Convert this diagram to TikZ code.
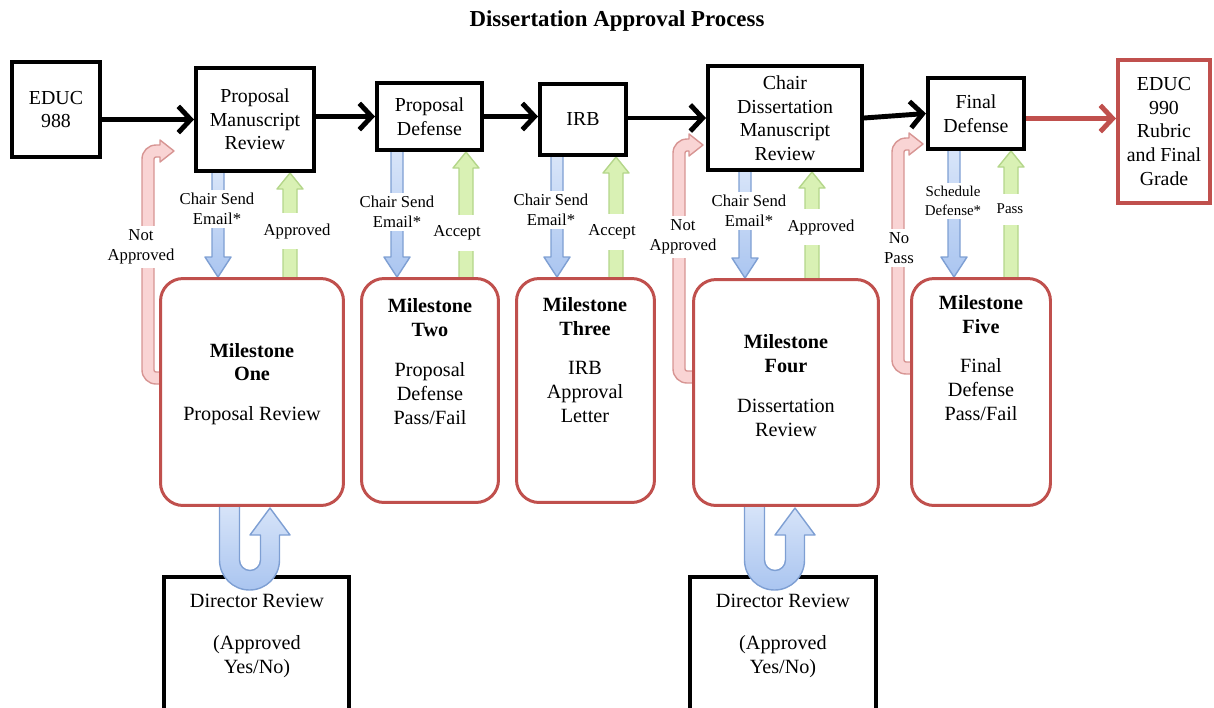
\documentclass[tikz,border=0pt]{standalone}
\usepackage{fontspec}
\setmainfont{Liberation Serif}
\usepackage{tikz}
\usetikzlibrary{arrows.meta,calc,backgrounds}

\definecolor{msred}{HTML}{C0504D}
\definecolor{blueA}{HTML}{DAE6F9}
\definecolor{blueB}{HTML}{AAC5F0}
\definecolor{bluelinec}{HTML}{7E9FD3}
\definecolor{greenfill}{HTML}{D9F1B4}
\definecolor{greenline}{HTML}{B4D68A}
\definecolor{pinkfill}{HTML}{F9D4D4}
\definecolor{pinkline}{HTML}{D79593}

\newcommand{\boxfont}{\fontsize{11.3}{13.4}\selectfont}
\newcommand{\lblfont}{\fontsize{9.5}{11.4}\selectfont}
\newcommand{\smallfont}{\fontsize{8.5}{10.6}\selectfont}

\tikzset{
  topbox/.style={draw, line width=2.3pt, fill=white, align=center, font=\boxfont, inner sep=1pt},
  endbox/.style={topbox, draw=msred},
  milebox/.style={draw=msred, line width=1.7pt, rounded corners=0.45cm, fill=white},
  miletext/.style={align=center, font=\fontsize{11.5}{13.6}\selectfont},
  dirbox/.style={draw, line width=2.3pt, fill=white},
  flow/.style={line width=2.8pt, -{Straight Barb[length=7pt,width=15pt]}},
  lbl/.style={fill=white, align=center, inner sep=2pt, font=\lblfont},
  bluearrow/.style={draw=bluelinec, line width=0.8pt, top color=blueA, bottom color=blueB, line join=round},
  greenarrow/.style={draw=greenline, line width=0.8pt, fill=greenfill, line join=round},
  pinkarrow/.style={draw=pinkline, line width=0.8pt, fill=pinkfill, line join=round},
}

% block arrow down: x, upper node, lower node
\newcommand{\downblock}[3]{%
  \path (#1,0 |- #2.south) coordinate (tl) (#1,0 |- #3.north) coordinate (hd);
  \draw[bluearrow] ($(tl)+(-6,-6)$) -- ($(hd)+(-6,-20)$) -- ($(hd)+(-13,-20)$) -- (hd)
    -- ($(hd)+(13,-20)$) -- ($(hd)+(6,-20)$) -- ($(tl)+(6,-6)$) -- cycle;}
% block arrow up: x, lower node, upper node
\newcommand{\upblock}[3]{%
  \path (#1,0 |- #2.north) coordinate (tl) (#1,0 |- #3.south) coordinate (hd);
  \draw[greenarrow] ($(tl)+(-7,6)$) -- ($(hd)+(-7,16)$) -- ($(hd)+(-13,16)$) -- (hd)
    -- ($(hd)+(13,16)$) -- ($(hd)+(7,16)$) -- ($(tl)+(7,6)$) -- cycle;}
% bent return arrow: shaft x, bottom y, top y, tip x
\newcommand{\bentblock}[4]{%
  \draw[pinkarrow] (#1+16,#2+6) -- (#1+8,#2+6) arc[start angle=90,end angle=180,radius=14]
    -- (#1-6,#3+8) arc[start angle=180,end angle=270,radius=14]
    -- (#4-14,#3-6) -- (#4-14,#3-11) -- (#4,#3) -- (#4-14,#3+11) -- (#4-14,#3+6)
    -- (#1+8,#3+6) arc[start angle=270,end angle=180,radius=2]
    -- (#1+6,#2-8) arc[start angle=180,end angle=90,radius=2]
    -- (#1+16,#2-6) -- cycle;}
% u-turn arrow below a milestone, shifted
\newcommand{\ublock}[1]{%
  \draw[bluearrow, shift={(#1,0)}] (219.5,500) -- (219.5,560) arc[start angle=180,end angle=0,radius=30]
    -- (279.5,535) -- (290,535) -- (270,508) -- (250,535) -- (260.5,535)
    -- (260.5,560) arc[start angle=0,end angle=180,radius=10.5] -- (239.5,500) -- cycle;}

\begin{document}
\begin{tikzpicture}[x=0.02cm,y=-0.02cm]
\useasboundingbox (0,0) rectangle (1214,707);
\node[font=\bfseries\fontsize{13}{15}\selectfont] (title) at (617,21) {Dissertation Approval Process};

% top row
\node[topbox, minimum width=1.76cm, minimum height=1.9cm] (e988) at (56,109.5) {EDUC\\988};
\node[topbox, minimum width=2.36cm, minimum height=2.06cm] (pmr) at (255,119.5) {Proposal\\Manuscript\\Review};
\node[topbox, minimum width=2.1cm, minimum height=1.34cm] (pd) at (429.5,116.5) {Proposal\\Defense};
\node[topbox, minimum width=1.72cm, minimum height=1.42cm] (irb) at (583,119.5) {IRB};
\node[topbox, minimum width=3.08cm, minimum height=2.08cm] (cdmr) at (785,118) {Chair\\Dissertation\\Manuscript\\Review};
\node[topbox, minimum width=1.92cm, minimum height=1.42cm] (fd) at (976,113.5) {Final\\Defense};
\node[endbox, minimum width=1.84cm, minimum height=2.86cm] (e990) at (1164,131.5) {EDUC\\990\\Rubric\\and Final\\Grade};

\draw[flow] (e988.east |- pmr.west) -- (pmr.west);
\draw[flow] (pmr.east |- pd.west) -- (pd.west);
\draw[flow] (pd.east) -- (pd.east -| irb.west);
\draw[flow] (irb.east |- cdmr.west) -- (cdmr.west);
\draw[flow] (cdmr.east) -- (fd.west);
\draw[flow, msred] ($(fd.east)+(0,5)$) -- ($(fd.east -| e990.west)+(0,5)$);

% milestones
\node[milebox, minimum width=3.66cm, minimum height=4.54cm] (m1) at (252,392) {};
\node[milebox, minimum width=2.74cm, minimum height=4.48cm] (m2) at (430,390.5) {};
\node[milebox, minimum width=2.76cm, minimum height=4.48cm] (m3) at (585.5,390.5) {};
\node[milebox, minimum width=3.70cm, minimum height=4.52cm] (m4) at (786,392.5) {};
\node[milebox, minimum width=2.78cm, minimum height=4.54cm] (m5) at (981,392) {};
\node[miletext] (m1t) at (252,384) {\textbf{Milestone}\\\textbf{One}\\[9pt]Proposal Review};
\node[miletext] (m2t) at (430,361.5) {\textbf{Milestone}\\\textbf{Two}\\[9pt]Proposal\\Defense\\Pass/Fail};
\node[miletext] (m3t) at (585,360) {\textbf{Milestone}\\\textbf{Three}\\[9pt]IRB\\Approval\\Letter};
\node[miletext] (m4t) at (786,385.5) {\textbf{Milestone}\\\textbf{Four}\\[9pt]Dissertation\\Review};
\node[miletext] (m5t) at (981,358) {\textbf{Milestone}\\\textbf{Five}\\[9pt]Final\\Defense\\Pass/Fail};

% director reviews and arrows behind
\begin{scope}[on background layer]
\node[dirbox, minimum width=3.7cm, minimum height=3cm] (dr1) at (256.5,652) {};
\node[dirbox, minimum width=3.72cm, minimum height=3cm] (dr2) at (783,652) {};
\ublock{0}
\ublock{525}
\bentblock{148}{378}{151}{174}
\bentblock{679}{377}{145}{703}
\bentblock{898}{368}{144}{923}
\downblock{218}{pmr}{m1}
\downblock{397}{pd}{m2}
\downblock{557}{irb}{m3}
\downblock{745}{cdmr}{m4}
\downblock{954}{fd}{m5}
\upblock{290}{m1}{pmr}
\upblock{466}{m2}{pd}
\upblock{616}{m3}{irb}
\upblock{812}{m4}{cdmr}
\upblock{1011}{m5}{fd}
\end{scope}
\node[miletext] (dr1t) at (257,636) {Director Review\\[10pt](Approved\\Yes/No)};
\node[miletext] (dr2t) at (783,636) {Director Review\\[10pt](Approved\\Yes/No)};

% labels
\node[lbl] (l1a) at (217,209) {Chair Send\\Email*};
\node[lbl, inner ysep=6pt] (l1b) at (297,231) {Approved};
\node[lbl] (l1c) at (141,247) {Not\\Approved};
\node[lbl] (l2a) at (397,212) {Chair Send\\Email*};
\node[lbl, inner ysep=6pt] (l2b) at (457,233) {Accept};
\node[lbl] (l3a) at (551,210) {Chair Send\\Email*};
\node[lbl, inner ysep=6pt] (l3b) at (612,232) {Accept};
\node[lbl] (l4c) at (683,237) {Not\\Approved};
\node[lbl] (l4a) at (749,211) {Chair Send\\Email*};
\node[lbl, inner ysep=6pt] (l4b) at (821,227) {Approved};
\node[lbl, font=\smallfont] (l5a) at (953,201) {Schedule\\Defense*};
\node[lbl, font=\smallfont, inner ysep=6pt] (l5b) at (1010,209) {Pass};
\node[lbl] (l5c) at (899,248) {No\\Pass};
\end{tikzpicture}
\end{document}
